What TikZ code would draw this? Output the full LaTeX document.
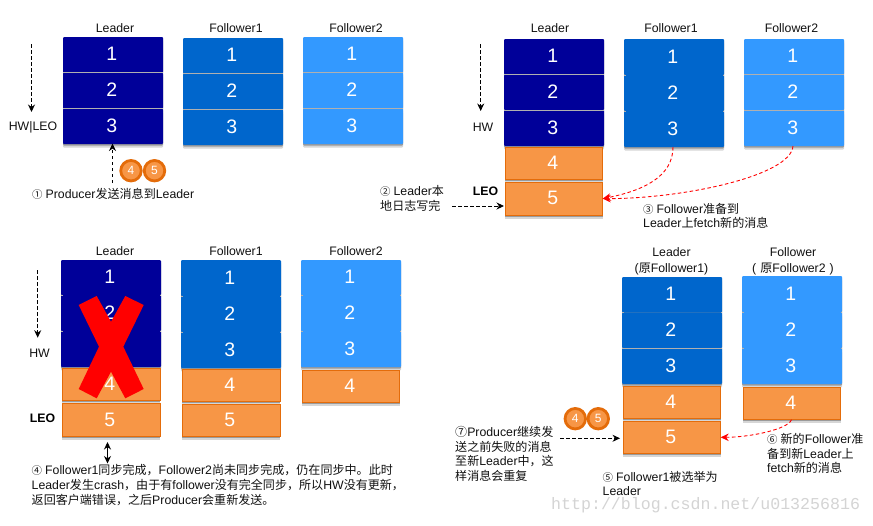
\documentclass[tikz,border=0pt]{standalone}
\usepackage{fontspec}
\setmainfont{Liberation Sans}
\newfontfamily\cjkf[Scale=0.98]{Noto Sans CJK SC}
\newfontfamily\cjkn[Scale=0.85]{Noto Sans CJK SC}
\newfontfamily\wmf{Liberation Mono}
\newcommand\zh[1]{{\cjkf #1}}
\newcommand\num[1]{{\cjkn #1}\hspace{3pt}}
\usetikzlibrary{shadows,arrows.meta}
\definecolor{navy}{HTML}{000099}
\definecolor{midblue}{HTML}{0066CC}
\definecolor{lightblue}{HTML}{3399FF}
\definecolor{orfill}{HTML}{F79646}
\definecolor{orline}{HTML}{E46C0A}
\definecolor{sepgray}{HTML}{B0B0B0}
\definecolor{inkc}{HTML}{111111}
\tikzset{
  softshadow/.style={general shadow={shadow yshift=-1.5pt,fill=black,opacity=.28},general shadow={shadow yshift=-3.5pt,fill=black,opacity=.16}},
  cellbase/.style={inner sep=0pt,outer sep=0pt,text=white,softshadow,font=\fontsize{19.5}{22}\selectfont},
  bluecell/.style={cellbase,rounded corners=1pt},
  orcell/.style={cellbase,fill=orfill,draw=orline,line width=.8pt},
  title/.style={font=\fontsize{12.3}{16}\selectfont,text=inkc,inner sep=0pt,align=center},
  note/.style={font=\fontsize{12.3}{14.7}\selectfont,text=inkc,inner sep=0pt,align=left,anchor=west},
  boldlab/.style={font=\fontsize{12.3}{15}\selectfont\bfseries,text=black,inner sep=0pt},
  blackdash/.style={draw=black,line width=.9pt,dash pattern=on 3.5pt off 2.5pt,-{Stealth[length=7.5pt,width=7pt]}},
  reddash/.style={draw=red,line width=.9pt,dash pattern=on 3.5pt off 2.5pt,-{Stealth[length=8pt,width=7.5pt]}},
  dbl/.style={draw=black,line width=.9pt,{Stealth[length=7.5pt,width=7pt]}-{Stealth[length=7.5pt,width=7pt]}},
  sepline/.style={draw=sepgray,line width=.8pt},
  coin/.style={circle,minimum size=20.5pt,inner sep=0pt,fill=orfill,draw=orline,line width=2.8pt,text=white,font=\fontsize{12}{14}\selectfont,general shadow={shadow yshift=-1pt,fill=black,opacity=.2}},
}
% name, x0, y0, x1, y1, style+fill, digit
\newcommand\cellnode[7]{\node[#6,minimum width={#4pt-#2pt},minimum height={#5pt-#3pt}] (#1) at ({(#2+#4)/2},{(#3+#5)/2}) {\raisebox{1pt}{\hspace*{-2.5pt}#7}};}
\newcommand\fullsep[1]{\draw[sepline] (#1.south west) -- (#1.south east);}
\newcommand\ticksep[1]{\draw[sepline] (#1.south west) -- ++(1.5,0) (#1.south east) -- ++(-1.5,0);}
\begin{document}
\begin{tikzpicture}[x=1pt,y=-1pt]
\useasboundingbox (0,0) rectangle (873,525);
\fill[white] (0,0) rectangle (873,525);

% ---------- Panel A
\node[title] (ta1) at (115,28) {Leader};
\node[title] (ta2) at (236,28) {Follower1};
\node[title] (ta3) at (356,28) {Follower2};
\cellnode{a11}{63}{37}{163}{72.5}{bluecell,fill=navy}{1}
\cellnode{a12}{63}{72.5}{163}{108.5}{bluecell,fill=navy}{2}
\cellnode{a13}{63}{108.5}{163}{144}{bluecell,fill=navy}{3}
\fullsep{a11}\fullsep{a12}
\cellnode{a21}{183}{38}{283}{73.5}{bluecell,fill=midblue}{1}
\cellnode{a22}{183}{73.5}{283}{109.5}{bluecell,fill=midblue}{2}
\cellnode{a23}{183}{109.5}{283}{145}{bluecell,fill=midblue}{3}
\fullsep{a21}\fullsep{a22}
\cellnode{a31}{303}{37}{403}{72.5}{bluecell,fill=lightblue}{1}
\cellnode{a32}{303}{72.5}{403}{108.5}{bluecell,fill=lightblue}{2}
\cellnode{a33}{303}{108.5}{403}{144}{bluecell,fill=lightblue}{3}
\fullsep{a31}\fullsep{a32}
\node[title] (hwa) at (33,127) {HW|LEO};
\coordinate (hwas) at (31.5,44);
\coordinate (hwae) at (31.5,112);
\draw[blackdash] (hwas) -- (hwae);
\coordinate (pas) at (112.5,183);
\coordinate (pae) at (112.5,143.5);
\draw[blackdash] (pas) -- (pae);
\node[coin] (ca4) at (131,170.7) {4};
\node[coin] (ca5) at (154.5,170.7) {5};
\node[note] (na) at (32,194) {\num{①}Producer\zh{发送消息到}Leader};

% ---------- Panel B
\node[title] (tb1) at (550,28) {Leader};
\node[title] (tb2) at (671,28) {Follower1};
\node[title] (tb3) at (791.5,28) {Follower2};
\cellnode{b11}{504}{39}{604}{74.5}{bluecell,fill=navy}{1}
\cellnode{b12}{504}{74.5}{604}{110}{bluecell,fill=navy}{2}
\cellnode{b13}{504}{110}{604}{146}{bluecell,fill=navy}{3}
\fullsep{b11}\fullsep{b12}
\cellnode{b21}{624}{39}{724}{75}{bluecell,fill=midblue}{1}
\cellnode{b22}{624}{75}{724}{111}{bluecell,fill=midblue}{2}
\cellnode{b23}{624}{111}{724}{147}{bluecell,fill=midblue}{3}
\ticksep{b21}\ticksep{b22}
\cellnode{b31}{744}{39}{844}{74.5}{bluecell,fill=lightblue}{1}
\cellnode{b32}{744}{74.5}{844}{110}{bluecell,fill=lightblue}{2}
\cellnode{b33}{744}{110}{844}{146}{bluecell,fill=lightblue}{3}
\fullsep{b31}\fullsep{b32}
\cellnode{b14}{505.3}{147.3}{602.7}{179.7}{orcell}{4}
\cellnode{b15}{505.3}{182.3}{602.7}{215}{orcell}{5}
\node[title] (hwb) at (483,127) {HW};
\node[boldlab] (leob) at (485.5,191.5) {LEO};
\coordinate (hwbs) at (480.7,44);
\coordinate (hwbe) at (480.7,111);
\draw[blackdash] (hwbs) -- (hwbe);
\coordinate (lbs) at (452,206);
\coordinate (lbe) at (504,206);
\draw[blackdash] (lbs) -- (lbe);
\draw[reddash] ([xshift=-1pt]b23.south) .. controls +(0,30) and +(40,-8) .. (b15.east);
\draw[reddash] ([xshift=-1pt]b33.south) .. controls +(-2,30) and +(80,0) .. (b15.east);
\node[note] (nb2) at (380,198.5) {\num{②}Leader\zh{本}\\\zh{地日志写完}};
\node[note] (nb3) at (643,216) {\num{③}Follower\zh{准备到}\\Leader\zh{上}fetch\zh{新的消息}};

% ---------- Panel C
\node[title] (tc1) at (115,251) {Leader};
\node[title] (tc2) at (236,251) {Follower1};
\node[title] (tc3) at (356,251) {Follower2};
\cellnode{c11}{61}{260}{161}{295}{bluecell,fill=navy}{1}
\cellnode{c12}{61}{295}{161}{331}{bluecell,fill=navy}{2}
\cellnode{c13}{61}{331}{161}{367}{bluecell,fill=navy}{3}
\ticksep{c11}\ticksep{c12}
\cellnode{c21}{181}{260}{281}{296}{bluecell,fill=midblue}{1}
\cellnode{c22}{181}{296}{281}{332}{bluecell,fill=midblue}{2}
\cellnode{c23}{181}{332}{281}{368}{bluecell,fill=midblue}{3}
\ticksep{c21}\ticksep{c22}
\cellnode{c31}{301}{260}{401}{295}{bluecell,fill=lightblue}{1}
\cellnode{c32}{301}{295}{401}{331}{bluecell,fill=lightblue}{2}
\cellnode{c33}{301}{331}{401}{367}{bluecell,fill=lightblue}{3}
\ticksep{c31}\ticksep{c32}
\cellnode{c14}{62.3}{368.3}{160}{400.7}{orcell}{4}
\cellnode{c15}{62.3}{403.3}{160}{436.3}{orcell}{5}
\cellnode{c24}{182.3}{369.3}{280}{401.7}{orcell}{4}
\cellnode{c25}{182.3}{404}{280}{436.3}{orcell}{5}
\cellnode{c34}{302.3}{370.3}{399.7}{402.7}{orcell}{4}
\fill[red] (96.7,296) -- (111,321.7) -- (125.3,296) -- (143.7,305) -- (123.3,346.7) -- (143.7,389) -- (125.3,398.3) -- (111,371.7) -- (96.7,398.3) -- (78.7,389) -- (99,346.7) -- (78.7,305) -- cycle;
\node[title] (hwc) at (39.5,353.5) {HW};
\node[boldlab] (leoc) at (42.5,418.5) {LEO};
\coordinate (hwcs) at (37.7,270);
\coordinate (hwce) at (37.7,337.7);
\draw[blackdash] (hwcs) -- (hwce);
\coordinate (dcs) at (107.5,442);
\coordinate (dce) at (107.5,463.5);
\draw[dbl] (dcs) -- (dce);
\node[note] (nc) at (31.5,485) {\num{④}Follower1\zh{同步完成，}Follower2\zh{尚未同步完成，仍在同步中。此时}\\Leader\zh{发生}crash\zh{，由于有}follower\zh{没有完全同步，所以}HW\zh{没有更新，}\\\zh{返回客户端错误，之后}Producer\zh{会重新发送。}};

% ---------- Panel D
\node[title] (td1) at (671.5,261) {Leader\\(\zh{原}Follower1)};
\node[title] (td2) at (793,261) {Follower\\(\hspace{4pt}\zh{原}Follower2\hspace{4pt})};
\cellnode{d21}{622}{277}{722}{312.5}{bluecell,fill=midblue}{1}
\cellnode{d22}{622}{312.5}{722}{348}{bluecell,fill=midblue}{2}
\cellnode{d23}{622}{348}{722}{384}{bluecell,fill=midblue}{3}
\ticksep{d21}\fullsep{d22}
\cellnode{d31}{742}{276}{842}{312}{bluecell,fill=lightblue}{1}
\cellnode{d32}{742}{312}{842}{348}{bluecell,fill=lightblue}{2}
\cellnode{d33}{742}{348}{842}{384}{bluecell,fill=lightblue}{3}
\ticksep{d31}\ticksep{d32}
\cellnode{d24}{623.3}{386.3}{720.7}{418.7}{orcell}{4}
\cellnode{d25}{623.3}{421.3}{720.7}{453.3}{orcell}{5}
\cellnode{d34}{743.3}{387.3}{840.7}{419.7}{orcell}{4}
\node[coin] (cd4) at (575.3,418.7) {4};
\node[coin] (cd5) at (598.3,418.7) {5};
\coordinate (pds) at (560,438.3);
\coordinate (pde) at (620,438.3);
\draw[blackdash] (pds) -- (pde);
\draw[reddash] ([xshift=-0.5pt]d34.south) .. controls +(-4,10) and +(28,0) .. (d25.east);
\node[note] (nd7) at (455,453.8) {\zh{⑦}Producer\zh{继续发}\\\zh{送之前失败的消息}\\\zh{至新}Leader\zh{中，这}\\\zh{样消息会重复}};
\node[note] (nd5) at (602.5,483.5) {\num{⑤}Follower1\zh{被选举为}\\Leader};
\node[note] (nd6) at (767,453.5) {\num{⑥}\zh{新的}Follower\zh{准}\\\zh{备到新}Leader\zh{上}\\fetch\zh{新的消息}};
\node[inner sep=0pt,anchor=west,text=black!17,font=\fontsize{16.6}{18}\selectfont\wmf] (wm) at (551,505) {http://blog.csdn.net/u013256816};
\end{tikzpicture}
\end{document}
